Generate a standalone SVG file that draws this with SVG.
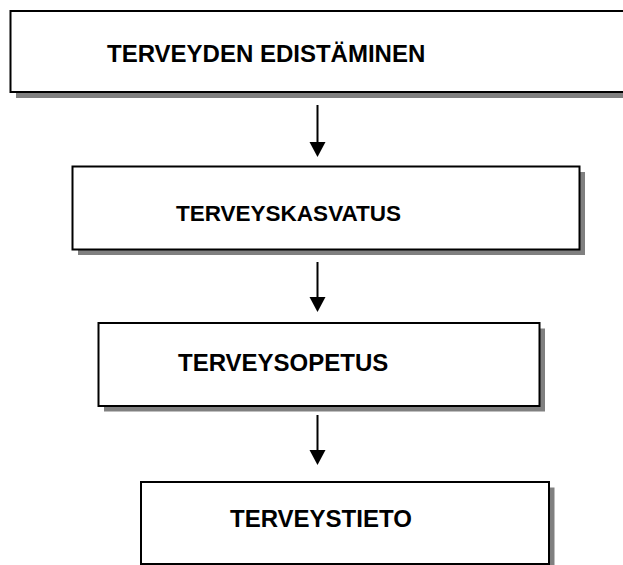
<svg xmlns="http://www.w3.org/2000/svg" width="623" height="565" viewBox="0 0 623 565">
<style>
.box{fill:#fff;stroke:#000;stroke-width:2}
.shadow{fill:#808080}
.lbl{font-family:"Liberation Sans",Arial,sans-serif;font-weight:bold;font-size:24px;fill:#000}
.conn{stroke:#000;stroke-width:2;fill:none}
.head{fill:#000}
</style>
<g id="n1">
<rect class="shadow" x="16" y="17" width="700" height="81"/>
<rect class="box" x="10.5" y="11" width="700" height="81"/>
<text class="lbl" x="107" y="62">TERVEYDEN EDISTÄMINEN</text>
</g>
<g id="n2">
<rect class="shadow" x="78" y="172" width="507" height="83"/>
<rect class="box" x="72.5" y="166.5" width="507" height="83"/>
<text class="lbl" x="176" y="221" style="font-size:22.5px">TERVEYSKASVATUS</text>
</g>
<g id="n3">
<rect class="shadow" x="104" y="328.5" width="441" height="83"/>
<rect class="box" x="98.5" y="323" width="441" height="83"/>
<text class="lbl" x="178" y="371">TERVEYSOPETUS</text>
</g>
<g id="n4">
<rect class="shadow" x="146.5" y="487.5" width="408" height="85"/>
<rect class="box" x="141" y="482" width="408" height="82"/>
<text class="lbl" x="230" y="527">TERVEYSTIETO</text>
</g>
<g id="connectors">
<line class="conn" x1="317.5" y1="105" x2="317.5" y2="144"/>
<polygon class="head" points="309.5,142 325.5,142 317.5,157"/>
<line class="conn" x1="317.5" y1="262" x2="317.5" y2="299"/>
<polygon class="head" points="309.5,297 325.5,297 317.5,312"/>
<line class="conn" x1="317.5" y1="415" x2="317.5" y2="452"/>
<polygon class="head" points="309.5,450 325.5,450 317.5,465"/>
</g>
</svg>
